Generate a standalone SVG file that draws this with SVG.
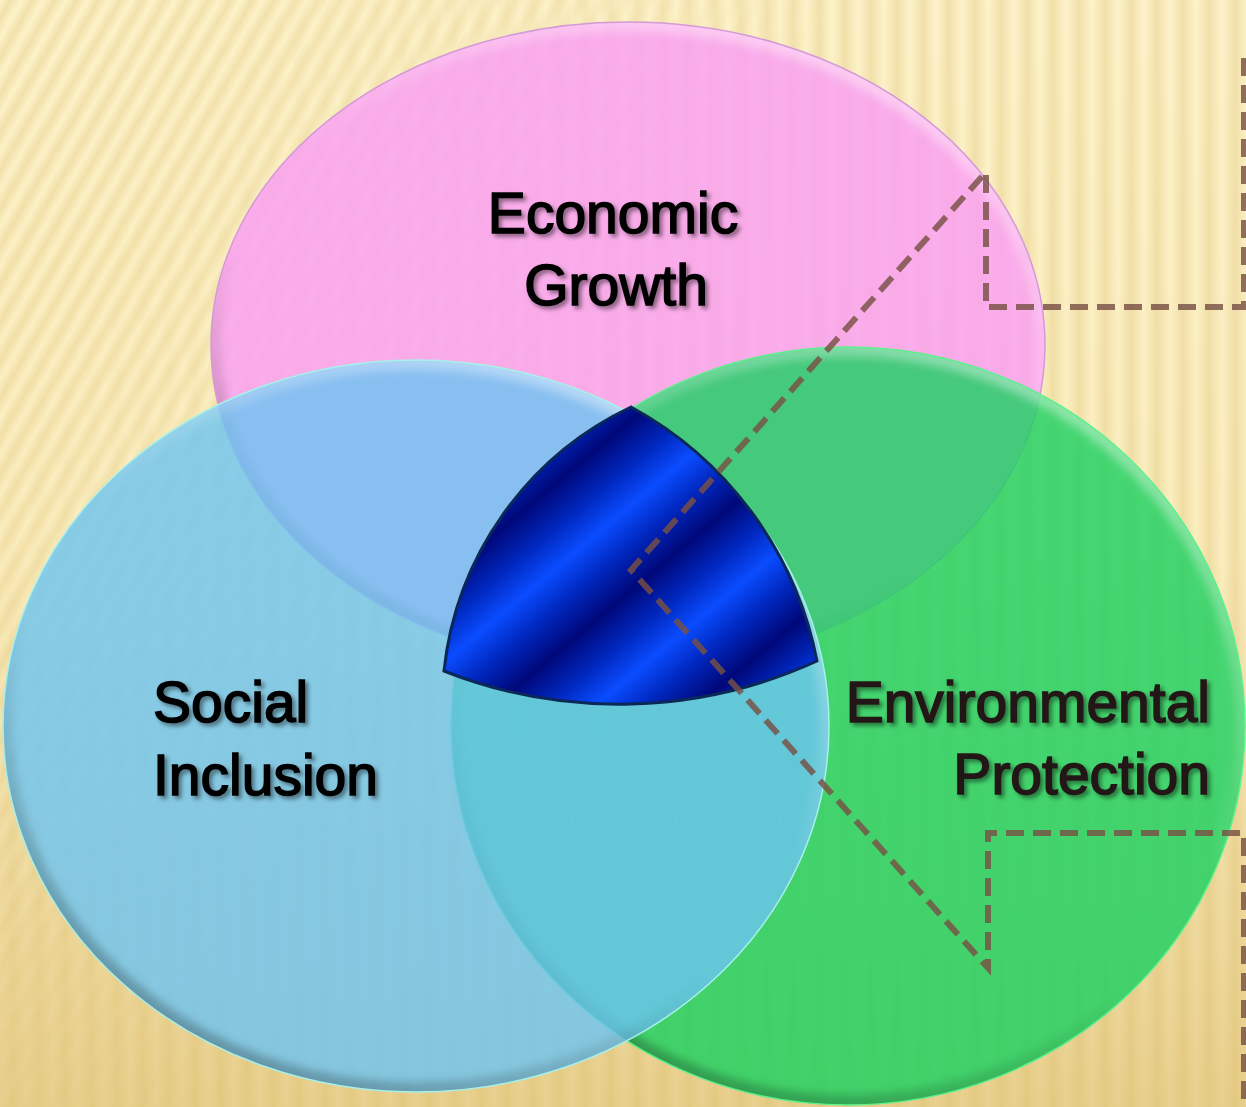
<svg xmlns="http://www.w3.org/2000/svg" width="1246" height="1107" viewBox="0 0 1246 1107">
<defs>
  <style>
    .lbl { font-family: "Liberation Sans", Arial, sans-serif; font-size: 57px; stroke-width: 1.6px; filter: url(#shadow); }
    .blk { fill: #050505; stroke: #050505; }
    .brn { fill: #231816; stroke: #231816; }
    .bevel { fill: none; stroke: url(#bevelG); stroke-width: 20; filter: url(#blur); }
    .conn { fill: none; stroke: #785044; stroke-opacity: 0.82; stroke-width: 6; stroke-dasharray: 18 9; stroke-linejoin: miter; }
  </style>
  <linearGradient id="bg" x1="0" y1="0" x2="0" y2="1">
    <stop offset="0" stop-color="#fdf3cb"/>
    <stop offset="0.5" stop-color="#fbeec0"/>
    <stop offset="1" stop-color="#e9d190"/>
  </linearGradient>
  <linearGradient id="sg" x1="0" y1="0" x2="1" y2="0">
    <stop offset="0" stop-color="#d8b660" stop-opacity="0"/>
    <stop offset="0.5" stop-color="#d8b660" stop-opacity="0.3"/>
    <stop offset="1" stop-color="#d8b660" stop-opacity="0"/>
  </linearGradient>
  <pattern id="pv" width="26" height="40" patternUnits="userSpaceOnUse">
    <rect width="26" height="40" fill="url(#sg)"/>
  </pattern>
  <pattern id="pd" width="19" height="40" patternUnits="userSpaceOnUse" patternTransform="rotate(30)">
    <rect width="19" height="40" fill="url(#sg)"/>
  </pattern>
  <linearGradient id="mgD" x1="0" y1="0" x2="1" y2="0.5">
    <stop offset="0.15" stop-color="#fff"/>
    <stop offset="0.55" stop-color="#000"/>
  </linearGradient>
  <linearGradient id="mgV" x1="0" y1="0" x2="1" y2="0.5">
    <stop offset="0.15" stop-color="#000"/>
    <stop offset="0.55" stop-color="#fff"/>
  </linearGradient>
  <mask id="mD"><rect width="1246" height="1107" fill="url(#mgD)"/></mask>
  <mask id="mV"><rect width="1246" height="1107" fill="url(#mgV)"/></mask>
  <linearGradient id="bevelG" x1="0.8" y1="0" x2="0.2" y2="1">
    <stop offset="0" stop-color="#fff" stop-opacity="0.45"/>
    <stop offset="0.45" stop-color="#fff" stop-opacity="0"/>
    <stop offset="0.6" stop-color="#000" stop-opacity="0"/>
    <stop offset="1" stop-color="#000" stop-opacity="0.3"/>
  </linearGradient>
  <filter id="blur" x="-10%" y="-10%" width="120%" height="120%">
    <feGaussianBlur stdDeviation="4"/>
  </filter>
  <filter id="shadow" x="-10%" y="-20%" width="120%" height="150%">
    <feDropShadow dx="3" dy="3" stdDeviation="2" flood-color="#000" flood-opacity="0.45"/>
  </filter>
  <clipPath id="cpPink"><ellipse cx="628" cy="345" rx="417" ry="323"/></clipPath>
  <clipPath id="cpGreen"><ellipse cx="848" cy="726" rx="397" ry="379"/></clipPath>
  <clipPath id="cpBlue"><ellipse cx="416" cy="726" rx="413" ry="366"/></clipPath>
  <linearGradient id="cg" gradientUnits="userSpaceOnUse" x1="468" y1="557" x2="552" y2="657" spreadMethod="repeat">
    <stop offset="0" stop-color="#00087a"/>
    <stop offset="0.25" stop-color="#0026bc"/>
    <stop offset="0.5" stop-color="#0a4cff"/>
    <stop offset="0.75" stop-color="#0026bc"/>
    <stop offset="1" stop-color="#00087a"/>
  </linearGradient>
</defs>

<g id="background">
  <rect width="1246" height="1107" fill="url(#bg)"/>
  <rect width="1246" height="1107" fill="url(#pd)" mask="url(#mD)"/>
  <rect width="1246" height="1107" fill="url(#pv)" mask="url(#mV)"/>
</g>

<g id="node-economic">
  <ellipse cx="628" cy="345" rx="417" ry="323" fill="#fa9cf6" fill-opacity="0.8"/>
  <ellipse cx="628" cy="345" rx="417" ry="323" class="bevel" clip-path="url(#cpPink)"/>
  <ellipse cx="628" cy="345" rx="417" ry="323" fill="none" stroke="#d49ad8" stroke-width="1.5"/>
  <text class="lbl blk" x="613" y="233" text-anchor="middle">Economic</text>
  <text class="lbl blk" x="616" y="305" text-anchor="middle">Growth</text>
</g>

<g id="node-environmental">
  <ellipse cx="848" cy="726" rx="397" ry="379" fill="#18d160" fill-opacity="0.8"/>
  <ellipse cx="848" cy="726" rx="397" ry="379" class="bevel" clip-path="url(#cpGreen)"/>
  <ellipse cx="848" cy="726" rx="397" ry="379" fill="none" stroke="#5ef08e" stroke-width="1.5"/>
  <text class="lbl brn" x="1210" y="722" text-anchor="end">Environmental</text>
  <text class="lbl brn" x="1210" y="794" text-anchor="end">Protection</text>
</g>

<g id="node-social">
  <ellipse cx="416" cy="726" rx="413" ry="366" fill="#6cc4f2" fill-opacity="0.8"/>
  <ellipse cx="416" cy="726" rx="413" ry="366" class="bevel" clip-path="url(#cpBlue)"/>
  <ellipse cx="416" cy="726" rx="413" ry="366" fill="none" stroke="#a8f0ea" stroke-width="1.5"/>
  <text class="lbl blk" x="153" y="722">Social</text>
  <text class="lbl blk" x="153" y="795">Inclusion</text>
</g>

<g id="node-center">
  <path d="M631,407 A330,330 0 0 0 444,671 A477,477 0 0 0 817,661 A370,370 0 0 0 631,407 Z" fill="url(#cg)" stroke="#0a2858" stroke-width="3" stroke-linejoin="miter"/>
</g>

<g id="connectors">
  <path class="conn" d="M1244,58 V307 H986 V172 L631,570 L988,968 V833 H1244 V1107"/>
</g>
</svg>
